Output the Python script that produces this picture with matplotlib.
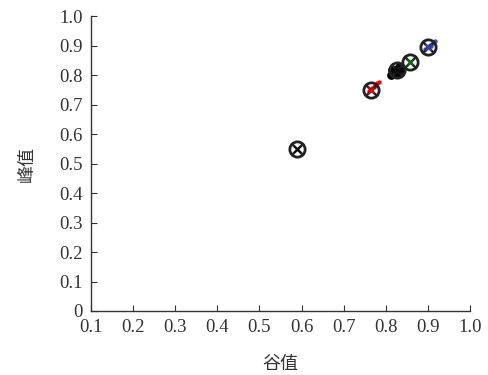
import matplotlib
matplotlib.use("Agg")
import matplotlib.pyplot as plt
import numpy as np

# Data: group centres (valley, peak) and nearby sample points
centers_x = [0.590, 0.765, 0.826, 0.857, 0.900]
centers_y = [0.550, 0.750, 0.817, 0.845, 0.895]
center_colors = ['black', 'red', 'black', 'green', '#3a4fd0']

red_x = [0.760, 0.768, 0.775, 0.780, 0.772, 0.785]
red_y = [0.745, 0.757, 0.765, 0.772, 0.760, 0.778]
black_x = [0.812, 0.818, 0.822, 0.828, 0.832, 0.836, 0.815, 0.826]
black_y = [0.800, 0.810, 0.818, 0.812, 0.826, 0.822, 0.816, 0.805]
blue_x = [0.893, 0.900, 0.906, 0.912, 0.918, 0.908]
blue_y = [0.888, 0.895, 0.902, 0.908, 0.915, 0.900]

xticks = [0.1, 0.2, 0.3, 0.4, 0.5, 0.6, 0.7, 0.8, 0.9, 1.0]
xticklabels = ['0.1', '0.2', '0.3', '0.4', '0.5', '0.6', '0.7', '0.8', '0.9', '1.0']
yticks = [0, 0.1, 0.2, 0.3, 0.4, 0.5, 0.6, 0.7, 0.8, 0.9, 1.0]
yticklabels = ['0', '0.1', '0.2', '0.3', '0.4', '0.5', '0.6', '0.7', '0.8', '0.9', '1.0']

fonts = ['Liberation Serif', 'Noto Sans CJK SC', 'DejaVu Sans']
plt.rcParams['font.family'] = fonts

fig = plt.figure(figsize=(4.88, 3.75), dpi=100)
ax = fig.add_axes([0.1865, 0.1707, 0.7765, 0.7863])

ax.scatter(red_x, red_y, s=10, color='red', zorder=2, linewidths=0)
ax.scatter(black_x, black_y, s=40, color='black', zorder=2, linewidths=0)
ax.scatter(blue_x, blue_y, s=10, color='#3a4fd0', zorder=2, linewidths=0)

for cx, cy, cc in zip(centers_x, centers_y, center_colors):
    ax.plot(cx, cy, marker='o', ms=11, mfc='none', mec='#222222', mew=2.0, zorder=4)
    ax.plot(cx, cy, marker='x', ms=7.5, mec='#222222', mew=1.8, zorder=4)
    ax.plot(cx, cy, marker='x', ms=5, mec=cc, mew=0.9, zorder=5)

ax.set_xlim(0.1, 1.0)
ax.set_ylim(0, 1.0)
ax.set_xticks(xticks)
ax.set_xticklabels(xticklabels)
ax.set_yticks(yticks)
ax.set_yticklabels(yticklabels)
ax.tick_params(direction='in', length=4, width=0.8, labelsize=13.5, colors='#333333', pad=6)
for side in ['top', 'right']:
    ax.spines[side].set_visible(False)
for side in ['left', 'bottom']:
    ax.spines[side].set_color('#333333')
    ax.spines[side].set_linewidth(1.0)

ax.set_xlabel('谷值', fontsize=13, color='#333333', labelpad=14)
ax.set_ylabel('峰值', fontsize=13, color='#333333', labelpad=17)

fig.savefig('out.png', dpi=100)
